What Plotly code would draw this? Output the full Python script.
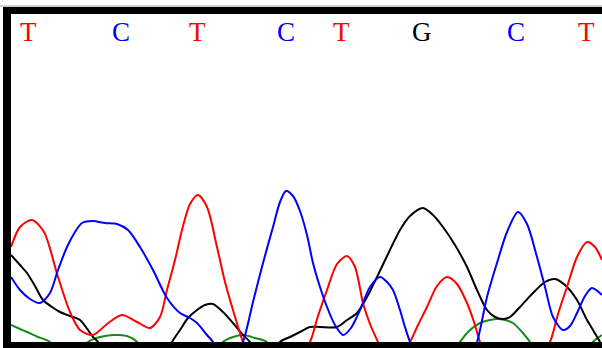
import plotly.graph_objects as go

# base calls
base_pos = [28, 121, 197, 286, 341, 422, 516, 586]
base_calls = ["T", "C", "T", "C", "T", "G", "C", "T"]
base_colors = {"T": "#ff0000", "C": "#0000ff", "G": "#000000", "A": "#1a8a1a"}

# trace T (red)
red_x = [11, 20, 32, 44, 58, 70, 80, 93, 107, 122, 137, 150, 160, 167, 175, 182, 190, 198, 207, 217, 225, 233, 243, 250,
         280, 300, 310, 318, 327, 337, 347, 355, 363, 370, 378, 385, 400, 410, 418, 427, 437, 447, 457, 467, 474, 480, 487,
         540, 550, 558, 567, 577, 587, 595, 602]
red_y = [95, 115, 122, 110, 65, 30, 12, 7, 18, 27, 20, 14, 25, 52, 82, 112, 138, 147, 135, 95, 60, 32, 0, -15,
         -15, -15, 0, 26, 52, 78, 86, 75, 39, 18, 0, -15, -15, 0, 17, 35, 56, 65, 58, 39, 20, 0, -15,
         -15, 0, 28, 55, 85, 100, 95, 82]

# trace C (blue)
blue_x = [11, 20, 30, 40, 50, 58, 67, 75, 82, 93, 105, 117, 128, 140, 153, 167, 180, 190, 197, 207, 213, 220, 235,
          243, 253, 263, 273, 280, 286, 293, 300, 307, 313, 320, 327, 335, 343, 351, 360, 370, 380, 387, 393, 400, 405,
          410, 417, 470, 477, 487, 497, 507, 518, 527, 537, 545, 553, 563, 570, 577, 585, 592, 602]
blue_y = [65, 52, 43, 39, 49, 72, 95, 110, 119, 121, 119, 118, 112, 95, 72, 44, 29, 24, 19, 7, 0, -15, -15,
          0, 40, 79, 115, 140, 151, 146, 131, 107, 79, 55, 35, 17, 7, 14, 32, 55, 65, 60, 52, 32, 15,
          0, -15, -15, 0, 45, 79, 110, 130, 118, 85, 55, 25, 12, 16, 29, 46, 54, 47]

# trace G (black)
black_x = [11, 20, 27, 35, 43, 52, 60, 70, 80, 88, 93, 98, 105, 165, 172, 180, 188, 197, 205, 213, 223, 233, 242,
           250, 258, 272, 280, 290, 300, 310, 320, 337, 347, 357, 367, 377, 388, 400, 410, 423, 433, 443, 455, 467,
           477, 487, 495, 503, 510, 520, 533, 545, 555, 565, 577, 587, 593, 600, 602]
black_y = [87, 77, 69, 56, 42, 35, 30, 26, 22, 12, 5, 0, -15, -15, 0, 12, 24, 32, 37, 38, 30, 19, 8,
           0, -15, -15, 0, 5, 10, 15, 15, 15, 22, 29, 45, 65, 88, 112, 126, 134, 127, 115, 97, 75,
           52, 32, 25, 23, 25, 35, 49, 60, 63, 57, 42, 22, 12, 0, -5]

# trace A (green)
green_x = [11, 20, 27, 38, 50, 57, 80, 88, 100, 113, 127, 137, 145, 215, 223, 233, 243, 255, 267, 275,
           450, 460, 468, 480, 490, 497, 505, 513, 522, 530, 538, 585, 593, 602]
green_y = [17, 13, 10, 5, 0, -15, -15, 0, 5, 7, 6, 0, -15, -15, 0, 5, 7, 4, 0, -15,
           -15, 0, 10, 19, 22, 23, 22, 19, 10, 0, -15, -15, 0, 7]

fig = go.Figure()
for xs, ys, col in [(green_x, green_y, "#1a8a1a"), (black_x, black_y, "#000000"),
                    (red_x, red_y, "#ff0000"), (blue_x, blue_y, "#0000ff")]:
    fig.add_trace(go.Scatter(x=xs, y=ys, mode="lines",
                             line=dict(color=col, width=2, shape="spline", smoothing=0.8),
                             hoverinfo="skip", showlegend=False))

for p, b in zip(base_pos, base_calls):
    fig.add_annotation(x=p, y=310, xref="x", yref="y", text=b, showarrow=False,
                       font=dict(family="Liberation Serif", size=27, color=base_colors[b]),
                       xanchor="center", yanchor="middle")

W, H = 602, 348
L, R, T, B = 11, 0, 14, 6
pw, ph = W - L - R, H - T - B


def px(v):
    return (v - L) / pw


def py(v):
    return (H - B - v) / ph


shapes = [
    # left border
    dict(type="rect", xref="paper", yref="paper", x0=px(3), x1=px(11), y0=py(348), y1=py(7),
         fillcolor="black", line=dict(width=0), layer="above"),
    # top border
    dict(type="rect", xref="paper", yref="paper", x0=px(3), x1=px(602), y0=py(14), y1=py(7),
         fillcolor="black", line=dict(width=0), layer="above"),
    # bottom border
    dict(type="rect", xref="paper", yref="paper", x0=px(3), x1=px(602), y0=py(348), y1=py(342),
         fillcolor="black", line=dict(width=0), layer="above"),
    # thin grey line on top
    dict(type="line", xref="paper", yref="paper", x0=px(0), x1=px(602), y0=py(6), y1=py(6),
         line=dict(color="#a0a0a0", width=1), layer="above"),
]

fig.update_layout(
    width=W, height=H,
    margin=dict(l=L, r=R, t=T, b=B, pad=0),
    paper_bgcolor="white", plot_bgcolor="white",
    xaxis=dict(range=[11, 602], visible=False, fixedrange=True),
    yaxis=dict(range=[0, 328], visible=False, fixedrange=True),
    shapes=shapes,
)

fig.write_html("out.html", config={"displayModeBar": False},
               post_script="document.body.style.margin='0';document.body.style.overflow='hidden';")
